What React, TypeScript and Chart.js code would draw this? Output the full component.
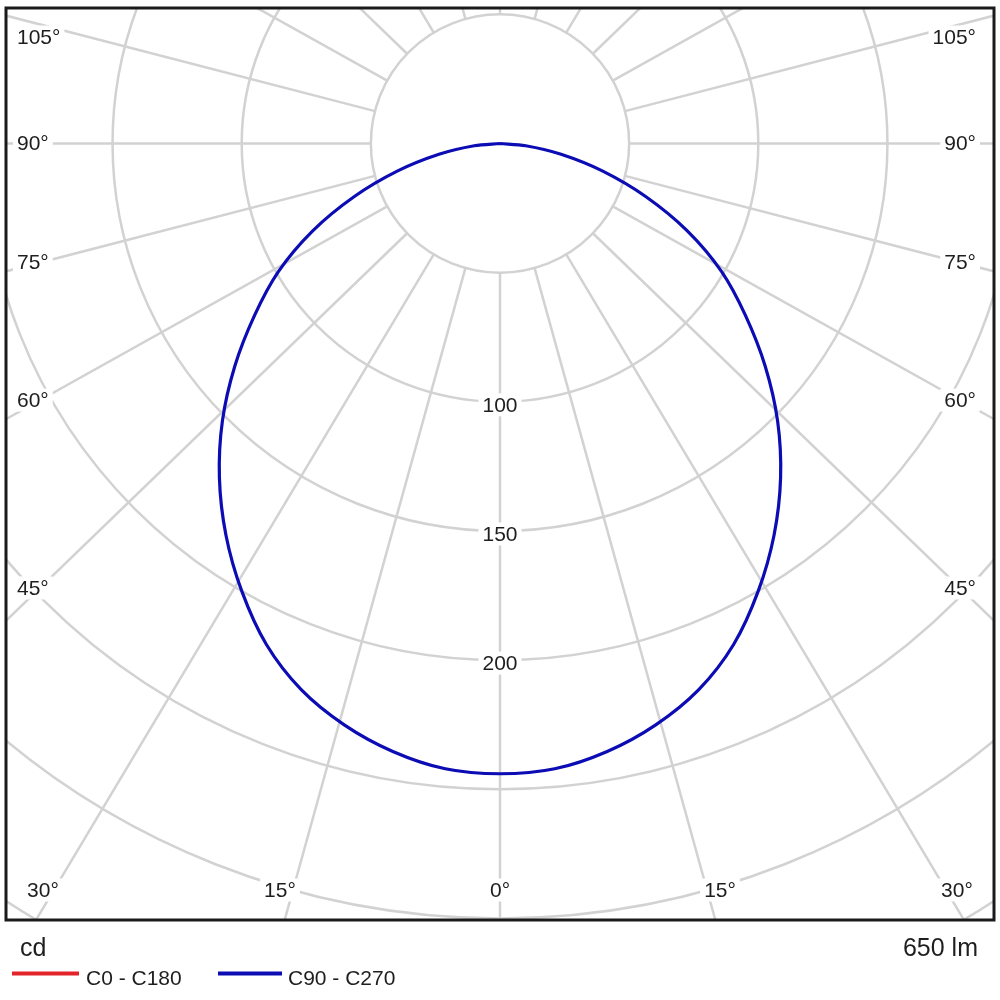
import React, { useEffect, useRef } from "react";
import { Chart, registerables } from "chart.js";

Chart.register(...registerables);

// ---- data ----
const gammaAngles = [0, 5, 10, 15, 20, 25, 30, 35, 40, 45, 50, 55, 60, 65, 70, 75, 80, 85, 90];
const intensityC0C180 = [244, 243, 239, 233, 225, 214, 200, 185, 169, 152, 134, 116, 99, 80, 60, 41, 24, 10, 0];
const intensityC90C270 = [244, 243, 239, 233, 225, 214, 200, 185, 169, 152, 134, 116, 99, 80, 60, 41, 24, 10, 0];
const seriesNames = ["C0 - C180", "C90 - C270"];
const seriesColors = ["#e3242b", "#0c0cb4"];
const ringValues = [50, 100, 150, 200, 250, 300, 350];
const ringLabelValues = [100, 150, 200];
const gridAngles = [0, 15, 30, 45, 60, 75, 90, 105, 120, 135, 150, 165, 180, 195, 210, 225, 240, 255, 270, 285, 300, 315, 330, 345];
const sideLabelAngles = [45, 60, 75, 90, 105];
const bottomLabelAngles = [0, 15, 30];
const unitText = "cd";
const fluxText = "650 lm";

// ---- styling / layout ----
const PX_PER_CD = 2.583;
const AREA = { left: 6, top: 8, right: 994, bottom: 920 };
const CENTER = { x: 500, y: 143.5 };
const GRID_COLOR = "#d2d2d2";
const TEXT_COLOR = "#1e1e1e";
const FONT = '"Liberation Sans", Arial, sans-serif';
const GRID_STRETCH = 1.035;
const LABEL_SIZE = 21;

const rad = (d: number) => (d * Math.PI) / 180;

function toPoints(angles: number[], values: number[]) {
  const pts: { x: number; y: number }[] = [];
  for (let i = angles.length - 1; i >= 0; i--) {
    pts.push({ x: -values[i] * Math.sin(rad(angles[i])), y: -values[i] * Math.cos(rad(angles[i])) });
  }
  for (let i = 1; i < angles.length; i++) {
    pts.push({ x: values[i] * Math.sin(rad(angles[i])), y: -values[i] * Math.cos(rad(angles[i])) });
  }
  return pts;
}

function gridDir(deg: number) {
  const sx = GRID_STRETCH * Math.sin(rad(deg));
  const sy = Math.cos(rad(deg));
  const n = Math.hypot(sx, sy);
  return { dx: sx / n, dy: sy / n };
}

function labelWithBg(ctx: CanvasRenderingContext2D, text: string, x: number, y: number, align: "left" | "right" | "center", size: number) {
  ctx.font = `${size}px ${FONT}`;
  const w = ctx.measureText(text).width;
  let left = x;
  if (align === "center") left = x - w / 2;
  if (align === "right") left = x - w;
  ctx.fillStyle = "#ffffff";
  ctx.fillRect(left - 4, y - size / 2 - 1, w + 8, size + 2);
  ctx.fillStyle = TEXT_COLOR;
  ctx.textAlign = "left";
  ctx.textBaseline = "middle";
  ctx.fillText(text, left, y + 1);
}

const polarPlugin = {
  id: "polarPlugin",
  beforeDatasetsDraw(chart: any) {
    const { ctx, chartArea: a } = chart;
    const xs = chart.scales.x;
    const ys = chart.scales.y;
    const cx = xs.getPixelForValue(0);
    const cy = ys.getPixelForValue(0);
    const pr = (v: number) => xs.getPixelForValue(v) - cx;
    ctx.save();
    ctx.beginPath();
    ctx.rect(a.left, a.top, a.right - a.left, a.bottom - a.top);
    ctx.clip();
    ctx.strokeStyle = GRID_COLOR;
    ctx.lineWidth = 2.5;
    for (const r of ringValues) {
      ctx.beginPath();
      ctx.arc(cx, cy, pr(r), 0, Math.PI * 2);
      ctx.stroke();
    }
    const r0 = pr(ringValues[0]);
    const r1 = pr(420);
    for (const g of gridAngles) {
      const d = gridDir(g);
      ctx.beginPath();
      ctx.moveTo(cx + d.dx * r0, cy + d.dy * r0);
      ctx.lineTo(cx + d.dx * r1, cy + d.dy * r1);
      ctx.stroke();
    }
    // ring labels
    for (const v of ringLabelValues) {
      labelWithBg(ctx, String(v), cx, cy + pr(v) + 3, "center", LABEL_SIZE);
    }
    // side angle labels
    const D = cx - (a.left + 34);
    for (const t of sideLabelAngles) {
      const d = gridDir(t);
      let yy = cy + (D * d.dy) / Math.abs(d.dx);
      yy = Math.max(yy, a.top + 29);
      labelWithBg(ctx, `${t}°`, a.left + 11, yy, "left", LABEL_SIZE);
      labelWithBg(ctx, `${t}°`, a.right - 18, yy, "right", LABEL_SIZE);
    }
    // bottom angle labels
    const yb = a.bottom - 30;
    for (const t of bottomLabelAngles) {
      const d = gridDir(t);
      let off = ((yb - cy) * Math.abs(d.dx)) / d.dy + 13;
      off = Math.min(off, 457);
      if (t === 0) {
        labelWithBg(ctx, `${t}°`, cx, yb, "center", LABEL_SIZE);
      } else {
        labelWithBg(ctx, `${t}°`, cx - off, yb, "center", LABEL_SIZE);
        labelWithBg(ctx, `${t}°`, cx + off, yb, "center", LABEL_SIZE);
      }
    }
    ctx.restore();
  },
  afterDraw(chart: any) {
    const { ctx, chartArea: a } = chart;
    ctx.save();
    ctx.strokeStyle = "#1a1a1a";
    ctx.lineWidth = 3;
    ctx.strokeRect(a.left, a.top, a.right - a.left, a.bottom - a.top);
    ctx.fillStyle = TEXT_COLOR;
    ctx.textBaseline = "alphabetic";
    ctx.font = `25px ${FONT}`;
    ctx.textAlign = "left";
    ctx.fillText(unitText, 20, 956);
    ctx.textAlign = "right";
    ctx.fillText(fluxText, 978, 956);
    // legend
    const ds = chart.data.datasets;
    const items = [
      { ds: ds.find((d: any) => d.label === seriesNames[0]), x0: 12, x1: 79, tx: 86 },
      { ds: ds.find((d: any) => d.label === seriesNames[1]), x0: 218, x1: 282, tx: 288 },
    ];
    ctx.font = `21px ${FONT}`;
    ctx.textAlign = "left";
    for (const it of items) {
      ctx.strokeStyle = it.ds.borderColor;
      ctx.lineWidth = 4;
      ctx.beginPath();
      ctx.moveTo(it.x0, 973.5);
      ctx.lineTo(it.x1, 973.5);
      ctx.stroke();
      ctx.fillStyle = TEXT_COLOR;
      ctx.fillText(it.ds.label, it.tx, 985);
    }
    ctx.restore();
  },
};

export default function App() {
  const ref = useRef<HTMLCanvasElement | null>(null);
  useEffect(() => {
    if (!ref.current) return;
    const chart = new Chart(ref.current, {
      type: "scatter",
      data: {
        datasets: [
          {
            label: seriesNames[1],
            data: toPoints(gammaAngles, intensityC90C270),
            borderColor: seriesColors[1],
            backgroundColor: seriesColors[1],
            showLine: true,
            pointRadius: 0,
            borderWidth: 3.2,
            tension: 0.3,
            order: 0,
          },
          {
            label: seriesNames[0],
            data: toPoints(gammaAngles, intensityC0C180),
            borderColor: seriesColors[0],
            backgroundColor: seriesColors[0],
            showLine: true,
            pointRadius: 0,
            borderWidth: 1.5,
            tension: 0.3,
            order: 1,
          },
        ],
      },
      options: {
        animation: false,
        responsive: false,
        events: [],
        layout: {
          padding: { left: AREA.left, top: AREA.top, right: 1000 - AREA.right, bottom: 1000 - AREA.bottom },
        },
        scales: {
          x: {
            type: "linear",
            display: false,
            min: -(CENTER.x - AREA.left) / PX_PER_CD,
            max: (AREA.right - CENTER.x) / PX_PER_CD,
          },
          y: {
            type: "linear",
            display: false,
            min: -(AREA.bottom - CENTER.y) / PX_PER_CD,
            max: (CENTER.y - AREA.top) / PX_PER_CD,
          },
        },
        plugins: {
          legend: { display: false },
          tooltip: { enabled: false },
        },
      },
      plugins: [polarPlugin],
    });
    return () => chart.destroy();
  }, []);
  return (
    <div style={{ position: "absolute", left: 0, top: 0, width: 1000, height: 1000, background: "#ffffff" }}>
      <canvas ref={ref} width={1000} height={1000} style={{ width: 1000, height: 1000, display: "block" }} />
    </div>
  );
}
